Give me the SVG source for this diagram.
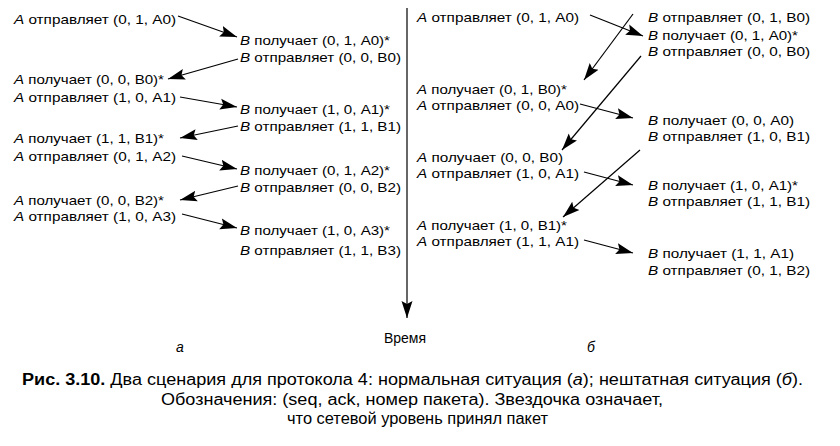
<svg xmlns="http://www.w3.org/2000/svg" width="840" height="446" viewBox="0 0 840 446">
<style>
text{font-family:"Liberation Sans",Arial,sans-serif;font-size:13.5px;fill:#000}
.i{font-style:italic}
.cap{font-size:16px}
.b{font-weight:bold}
.lbl{font-size:14px}
.c{stroke:#000;stroke-width:1.2;fill:none;marker-end:url(#ah)}
</style>
<defs>
<marker id="ah" markerUnits="userSpaceOnUse" markerWidth="20" markerHeight="12" refX="17" refY="5.5" orient="auto" viewBox="0 0 20 11">
<path d="M0,0 L17,5.5 L0,11 L3,5.5 Z" fill="#000"/>
</marker>
</defs>
<rect width="840" height="446" fill="#fff"/>
<g id="connectors">
<line class="c" x1="178" y1="16" x2="237" y2="37"/>
<line class="c" x1="238" y1="59" x2="168" y2="79"/>
<line class="c" x1="180" y1="97" x2="237" y2="107"/>
<line class="c" x1="238" y1="126" x2="180" y2="138"/>
<line class="c" x1="182" y1="156" x2="237" y2="169"/>
<line class="c" x1="238" y1="186" x2="180" y2="200"/>
<line class="c" x1="182" y1="214" x2="237" y2="228"/>
<line class="c" x1="590" y1="15" x2="643" y2="36"/>
<line class="c" x1="633" y1="14" x2="584" y2="80"/>
<line class="c" x1="641" y1="56" x2="562" y2="150"/>
<line class="c" x1="580" y1="104" x2="633" y2="118"/>
<line class="c" x1="640" y1="150" x2="563" y2="217"/>
<line class="c" x1="584" y1="172" x2="633" y2="185"/>
<line class="c" x1="584" y1="240" x2="633" y2="253"/>
<line class="c" x1="407" y1="8" x2="407" y2="318"/>
</g>
<g id="left-A">
<text x="14" y="24" textLength="162" lengthAdjust="spacingAndGlyphs"><tspan class="i">A</tspan> отправляет (0, 1, A0)</text>
<text x="14" y="84" textLength="150" lengthAdjust="spacingAndGlyphs"><tspan class="i">A</tspan> получает (0, 0, B0)*</text>
<text x="14" y="102" textLength="162" lengthAdjust="spacingAndGlyphs"><tspan class="i">A</tspan> отправляет (1, 0, A1)</text>
<text x="14" y="143" textLength="150" lengthAdjust="spacingAndGlyphs"><tspan class="i">A</tspan> получает (1, 1, B1)*</text>
<text x="14" y="161" textLength="162" lengthAdjust="spacingAndGlyphs"><tspan class="i">A</tspan> отправляет (0, 1, A2)</text>
<text x="14" y="205" textLength="150" lengthAdjust="spacingAndGlyphs"><tspan class="i">A</tspan> получает (0, 0, B2)*</text>
<text x="14" y="221" textLength="162" lengthAdjust="spacingAndGlyphs"><tspan class="i">A</tspan> отправляет (1, 0, A3)</text>
</g>
<g id="left-B">
<text x="240" y="45" textLength="150" lengthAdjust="spacingAndGlyphs"><tspan class="i">B</tspan> получает (0, 1, A0)*</text>
<text x="240" y="62" textLength="161" lengthAdjust="spacingAndGlyphs"><tspan class="i">B</tspan> отправляет (0, 0, B0)</text>
<text x="240" y="114" textLength="150" lengthAdjust="spacingAndGlyphs"><tspan class="i">B</tspan> получает (1, 0, A1)*</text>
<text x="240" y="131" textLength="161" lengthAdjust="spacingAndGlyphs"><tspan class="i">B</tspan> отправляет (1, 1, B1)</text>
<text x="240" y="175" textLength="150" lengthAdjust="spacingAndGlyphs"><tspan class="i">B</tspan> получает (0, 1, A2)*</text>
<text x="240" y="192" textLength="161" lengthAdjust="spacingAndGlyphs"><tspan class="i">B</tspan> отправляет (0, 0, B2)</text>
<text x="240" y="235" textLength="150" lengthAdjust="spacingAndGlyphs"><tspan class="i">B</tspan> получает (1, 0, A3)*</text>
<text x="240" y="255" textLength="161" lengthAdjust="spacingAndGlyphs"><tspan class="i">B</tspan> отправляет (1, 1, B3)</text>
</g>
<g id="right-A">
<text x="417" y="22" textLength="162" lengthAdjust="spacingAndGlyphs"><tspan class="i">A</tspan> отправляет (0, 1, A0)</text>
<text x="417" y="94" textLength="150" lengthAdjust="spacingAndGlyphs"><tspan class="i">A</tspan> получает (0, 1, B0)*</text>
<text x="417" y="110" textLength="162" lengthAdjust="spacingAndGlyphs"><tspan class="i">A</tspan> отправляет (0, 0, A0)</text>
<text x="417" y="162" textLength="146" lengthAdjust="spacingAndGlyphs"><tspan class="i">A</tspan> получает (0, 0, B0)</text>
<text x="417" y="178" textLength="162" lengthAdjust="spacingAndGlyphs"><tspan class="i">A</tspan> отправляет (1, 0, A1)</text>
<text x="417" y="230" textLength="150" lengthAdjust="spacingAndGlyphs"><tspan class="i">A</tspan> получает (1, 0, B1)*</text>
<text x="417" y="246" textLength="162" lengthAdjust="spacingAndGlyphs"><tspan class="i">A</tspan> отправляет (1, 1, A1)</text>
</g>
<g id="right-B">
<text x="648" y="22" textLength="162" lengthAdjust="spacingAndGlyphs"><tspan class="i">B</tspan> отправляет (0, 1, B0)</text>
<text x="648" y="40" textLength="150" lengthAdjust="spacingAndGlyphs"><tspan class="i">B</tspan> получает (0, 1, A0)*</text>
<text x="648" y="56" textLength="162" lengthAdjust="spacingAndGlyphs"><tspan class="i">B</tspan> отправляет (0, 0, B0)</text>
<text x="648" y="125" textLength="146" lengthAdjust="spacingAndGlyphs"><tspan class="i">B</tspan> получает (0, 0, A0)</text>
<text x="648" y="141" textLength="162" lengthAdjust="spacingAndGlyphs"><tspan class="i">B</tspan> отправляет (1, 0, B1)</text>
<text x="648" y="190" textLength="150" lengthAdjust="spacingAndGlyphs"><tspan class="i">B</tspan> получает (1, 0, A1)*</text>
<text x="648" y="206" textLength="162" lengthAdjust="spacingAndGlyphs"><tspan class="i">B</tspan> отправляет (1, 1, B1)</text>
<text x="648" y="258" textLength="146" lengthAdjust="spacingAndGlyphs"><tspan class="i">B</tspan> получает (1, 1, A1)</text>
<text x="648" y="275" textLength="162" lengthAdjust="spacingAndGlyphs"><tspan class="i">B</tspan> отправляет (0, 1, B2)</text>
</g>
<g id="labels">
<text x="405" y="343" class="lbl" text-anchor="middle">Время</text>
<text x="180" y="352" class="i lbl" text-anchor="middle">a</text>
<text x="591" y="352" class="i lbl" text-anchor="middle">б</text>
</g>
<g id="caption">
<text x="22" y="385" class="cap" textLength="781" lengthAdjust="spacingAndGlyphs"><tspan class="b">Рис. 3.10.</tspan> Два сценария для протокола 4: нормальная ситуация (<tspan class="i">а</tspan>); нештатная ситуация (<tspan class="i">б</tspan>).</text>
<text x="161" y="405" class="cap" textLength="502" lengthAdjust="spacingAndGlyphs">Обозначения: (seq, ack, номер пакета). Звездочка означает,</text>
<text x="287" y="424" class="cap" textLength="261" lengthAdjust="spacingAndGlyphs">что сетевой уровень принял пакет</text>
</g>
</svg>
